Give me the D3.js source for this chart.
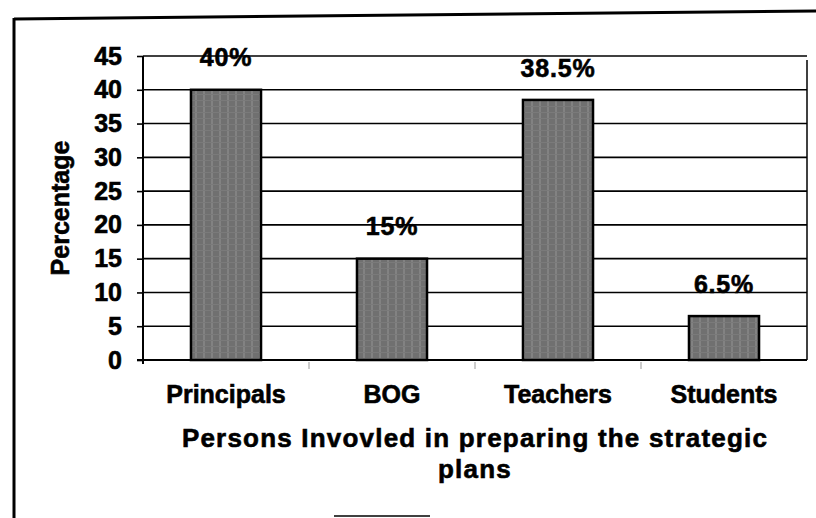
<!DOCTYPE html>
<html>
<head>
<meta charset="utf-8">
<script src="https://cdn.jsdelivr.net/npm/d3@7"></script>
<style>
  body { margin: 0; background: #fff; }
  svg { display: block; font-family: "Liberation Sans", Arial, sans-serif; }
  text { stroke: #000; stroke-width: 0.6px; }
</style>
</head>
<body>
<div id="chart"></div>
<script>
// chart values
var categories = ["Principals", "BOG", "Teachers", "Students"];
var values = [40, 15, 38.5, 6.5];
var valueLabels = ["40%", "15%", "38.5%", "6.5%"];
var yTicks = [0, 5, 10, 15, 20, 25, 30, 35, 40, 45];
var yTitle = "Percentage";
var xTitle = ["Persons Invovled in preparing the strategic", "plans"];

var width = 816, height = 518;
var margin = {top: 56, right: 9, bottom: 158, left: 143};

var svg = d3.select("#chart").append("svg")
    .attr("width", width)
    .attr("height", height);

// bar texture
var defs = svg.append("defs");
var pat = defs.append("pattern")
    .attr("id", "barfill")
    .attr("patternUnits", "userSpaceOnUse")
    .attr("width", 8).attr("height", 6);
pat.append("rect").attr("width", 8).attr("height", 6).attr("fill", "#707070");
pat.append("rect").attr("x", 3).attr("width", 2).attr("height", 6).attr("fill", "#828282");
pat.append("rect").attr("y", 4).attr("width", 8).attr("height", 1).attr("fill", "#7a7a7a");

// outer frame
svg.append("line").attr("x1", 14).attr("y1", 19).attr("x2", 816).attr("y2", 11)
    .attr("stroke", "#000").attr("stroke-width", 3);
svg.append("line").attr("x1", 14).attr("y1", 18).attr("x2", 14).attr("y2", 518)
    .attr("stroke", "#000").attr("stroke-width", 3);
svg.append("line").attr("x1", 334).attr("y1", 516).attr("x2", 430).attr("y2", 516)
    .attr("stroke", "#000").attr("stroke-width", 1.5);

var x = d3.scaleBand()
    .domain(categories)
    .range([margin.left, width - margin.right])
    .paddingInner(0.578)
    .paddingOuter(0.289);

var y = d3.scaleLinear()
    .domain([0, 45])
    .range([height - margin.bottom, margin.top]);

// gridlines
svg.append("g")
  .selectAll("line")
  .data(yTicks.filter(function(d){ return d > 0; }))
  .enter()
  .append("line")
    .attr("x1", margin.left)
    .attr("x2", width - margin.right)
    .attr("y1", function(d){ return y(d); })
    .attr("y2", function(d){ return y(d); })
    .attr("stroke", "#000")
    .attr("stroke-width", 1.6);

// right border of plot
svg.append("line")
    .attr("x1", width - margin.right).attr("x2", width - margin.right)
    .attr("y1", y(45) + 4).attr("y2", y(0))
    .attr("stroke", "#000").attr("stroke-width", 1.5);

// bars
svg.append("g")
  .selectAll("rect")
  .data(values)
  .enter()
  .append("rect")
    .attr("x", function(d, i){ return x(categories[i]); })
    .attr("width", x.bandwidth())
    .attr("y", function(d){ return y(d); })
    .attr("height", function(d){ return y(0) - y(d); })
    .attr("fill", "url(#barfill)")
    .attr("stroke", "#000")
    .attr("stroke-width", 2.5);

// data labels
svg.append("g")
  .selectAll("text")
  .data(values)
  .enter()
  .append("text")
    .attr("x", function(d, i){ return x(categories[i]) + x.bandwidth() / 2; })
    .attr("y", function(d){ return y(d) - 30; })
    .attr("text-anchor", "middle")
    .attr("dominant-baseline", "middle")
    .attr("font-size", 25)
    .attr("font-weight", "bold")
    .attr("letter-spacing", 0.8)
    .attr("fill", "#000")
    .text(function(d, i){ return valueLabels[i]; });

// y axis
var yAxis = d3.axisLeft(y).tickValues(yTicks).tickSize(6).tickPadding(15);
var gy = svg.append("g")
    .attr("transform", "translate(" + margin.left + ",0)")
    .call(yAxis);
gy.select(".domain").attr("stroke", "#000").attr("stroke-width", 2)
    .attr("d", "M0," + y(45) + "V" + (y(0) + 4));
gy.selectAll(".tick line").attr("stroke", "#000").attr("stroke-width", 1.6);
gy.selectAll(".tick text")
    .attr("font-size", 25)
    .attr("font-weight", "bold")
    .attr("font-family", "Liberation Sans, Arial, sans-serif")
    .attr("fill", "#000");

// x axis
var xAxis = d3.axisBottom(x).tickSize(0).tickPadding(25);
var gx = svg.append("g")
    .attr("transform", "translate(0," + y(0) + ")")
    .call(xAxis);
gx.select(".domain").attr("stroke", "#000").attr("stroke-width", 2)
    .attr("d", "M" + (margin.left - 6) + ",0H" + (width - margin.right));
gx.selectAll(".tick text")
    .attr("font-size", 25)
    .attr("font-weight", "bold")
    .attr("font-family", "Liberation Sans, Arial, sans-serif")
    .attr("fill", "#000");

// faint category separators below x axis
svg.append("g")
  .selectAll("line")
  .data(categories.slice(1))
  .enter()
  .append("line")
    .attr("x1", function(d){ return x(d) - x.step() * x.paddingInner() / 2; })
    .attr("x2", function(d){ return x(d) - x.step() * x.paddingInner() / 2; })
    .attr("y1", y(0) + 2)
    .attr("y2", y(0) + 9)
    .attr("stroke", "#bbb")
    .attr("stroke-width", 1.5);

// axis titles
svg.append("text")
    .attr("transform", "translate(62," + (y(0) + y(45)) / 2 + ") rotate(-90)")
    .attr("text-anchor", "middle")
    .attr("dominant-baseline", "middle")
    .attr("font-size", 25)
    .attr("font-weight", "bold")
    .text(yTitle);

svg.append("g")
  .selectAll("text")
  .data(xTitle)
  .enter()
  .append("text")
    .attr("x", (margin.left + width - margin.right) / 2)
    .attr("y", function(d, i){ return 440 + i * 31; })
    .attr("text-anchor", "middle")
    .attr("dominant-baseline", "middle")
    .attr("font-size", 26)
    .attr("font-weight", "bold")
    .attr("letter-spacing", 1.2)
    .text(function(d){ return d; });
</script>
</body>
</html>
